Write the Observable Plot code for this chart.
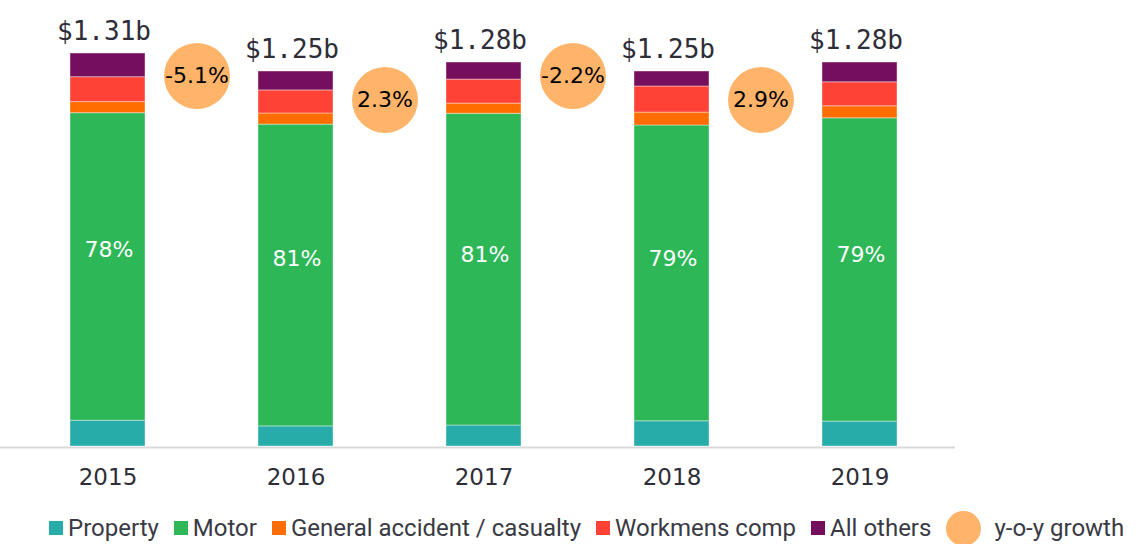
<!DOCTYPE html>
<html>
<head>
<meta charset="utf-8">
<script src="https://cdn.jsdelivr.net/npm/d3@7"></script>
<script src="https://cdn.jsdelivr.net/npm/@observablehq/plot@0.6"></script>
<style>
  body { margin: 0; background: #fff; }
  #legend { display: flex; align-items: center; height: 36px; padding-left: 49px;
    font-family: Roboto, "Noto Sans", sans-serif; font-size: 24px; color: #3a3a44; white-space: nowrap; }
  .sw { display: inline-block; width: 14px; height: 14px; margin-right: 5px; }
  .item { display: flex; align-items: center; margin-right: 15px; }
  .bub { display: inline-block; width: 35px; height: 35px; border-radius: 50%; margin-right: 13px; }
</style>
</head>
<body>
<div id="chart"></div>
<div id="legend"></div>
<script>
// ---- data ($ billions) ----
const years = ["2015", "2016", "2017", "2018", "2019"];
const totals = [1.31, 1.25, 1.28, 1.25, 1.28];
const segments = ["Property", "Motor", "General accident / casualty", "Workmens comp", "All others"];
const property = [0.086, 0.067, 0.070, 0.084, 0.083];
const motor = [1.025, 1.006, 1.039, 0.986, 1.011];
const generalAccident = [0.037, 0.037, 0.034, 0.043, 0.040];
const workmensComp = [0.083, 0.077, 0.080, 0.087, 0.080];
const allOthers = [0.079, 0.063, 0.057, 0.050, 0.066];
const motorShare = [78, 81, 81, 79, 79];
const growthLabels = ["-5.1%", "2.3%", "-2.2%", "2.9%"];
const colors = ["#27ACAA", "#2DB757", "#FF6D00", "#FF4136", "#750E5C"];
const bubbleColor = "#FFB46A";

// ---- tables built from arrays ----
const series = [property, motor, generalAccident, workmensComp, allOthers];
const rows = [];
years.forEach((yr, i) => segments.forEach((s, k) => rows.push({year: yr, segment: s, value: series[k][i]})));
const totalRows = years.map((yr, i) => ({year: yr, total: totals[i], share: motorShare[i]}));
const growthRows = growthLabels.map((g, i) => ({
  year: years[i], label: g,
  y: Math.min(totals[i], totals[i + 1]) - (i % 2 ? 0.095 : 0.015)
}));

const chart = Plot.plot({
  width: 1146, height: 510,
  marginTop: 11, marginBottom: 64, marginLeft: 0, marginRight: 191,
  x: {domain: years, paddingInner: 0.6, paddingOuter: 0.333, align: 0.55, label: null},
  y: {domain: [0, 1.45], axis: null},
  color: {domain: segments, range: colors},
  style: {fontFamily: "'DejaVu Sans', sans-serif", background: "#fff"},
  marks: [
    Plot.ruleY([0], {stroke: "#d9d9d9", strokeWidth: 2, dy: 1}),
    Plot.barY(rows, {x: "year", y: "value", fill: "segment", order: segments,
      stroke: "#fff", strokeOpacity: 0.4, strokeWidth: 1}),
    Plot.axisX({tickSize: 0, tickPadding: 22, fontSize: 23, fill: "#2e2e38", label: null}),
    Plot.text(totalRows, {x: "year", y: "total", text: d => `$${d.total.toFixed(2)}b`,
      lineAnchor: "bottom", dy: -14, dx: -4, fontSize: 26,
      fontFamily: "'DejaVu Sans Mono', monospace", fill: "#2e2e38"}),
    Plot.text(totalRows, {x: "year", y: d => d.total / 2, text: d => d.share + "%",
      fill: "#fff", fontSize: 22, dx: 1}),
    Plot.dot(growthRows, {x: "year", y: "y", r: 33, fill: bubbleColor, dx: 89}),
    Plot.text(growthRows, {x: "year", y: "y", text: "label", dx: 89, fontSize: 22, fill: "#000"})
  ]
});
document.getElementById("chart").appendChild(chart);

// ---- legend ----
const legend = document.getElementById("legend");
segments.forEach((s, k) => {
  const it = document.createElement("span");
  it.className = "item";
  it.innerHTML = `<span class="sw" style="background:${colors[k]}"></span>${s}`;
  legend.appendChild(it);
});
const g = document.createElement("span");
g.className = "item";
g.innerHTML = `<span class="bub" style="background:${bubbleColor}"></span>y-o-y growth`;
legend.appendChild(g);
</script>
</body>
</html>
